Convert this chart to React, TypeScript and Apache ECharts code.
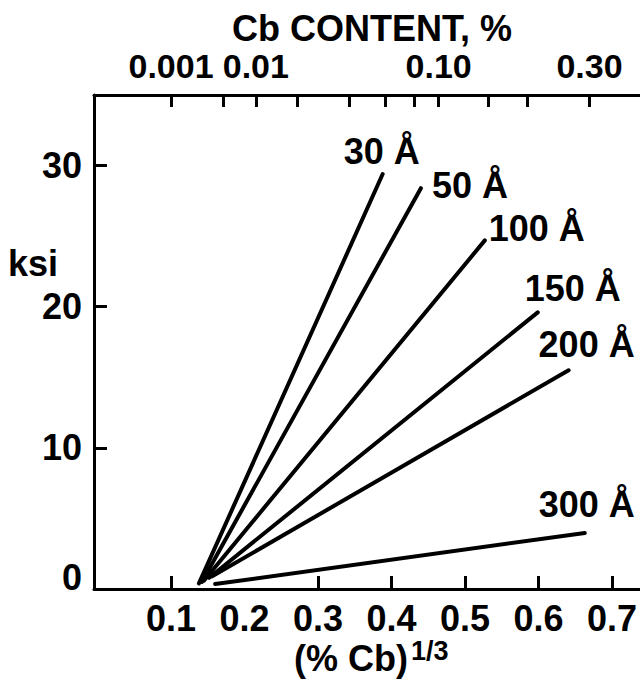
import React, { useEffect, useRef } from "react";
import * as echarts from "echarts";

// ---- data ----
const sizeLabels = ["30 Å", "50 Å", "100 Å", "150 Å", "200 Å", "300 Å"];
const xStart = [0.138, 0.142, 0.145, 0.152, 0.156, 0.16];
const yStart = [0.4, 0.5, 0.6, 0.8, 0.9, 0.35];
const xEnd = [0.388, 0.44, 0.527, 0.599, 0.641, 0.663];
const yEnd = [29.4, 28.4, 24.7, 19.6, 15.5, 3.97];

const bottomTickValues = [0.1, 0.3, 0.4, 0.5, 0.6, 0.7];
const bottomLabelValues = [0.1, 0.2, 0.3, 0.4, 0.5, 0.6, 0.7];
const yTickLabels = [0, 10, 20, 30];

const topTickPercents = [0.001, 0.005, 0.01, 0.02, 0.04, 0.06, 0.08, 0.1, 0.15, 0.2, 0.3];
const topLabelPercents = [0.001, 0.01, 0.1, 0.3];
const topLabelTexts = ["0.001", "0.01", "0.10", "0.30"];

// ---- styles ----
const FONT = "'Liberation Sans', Arial, sans-serif";
const FS = 36;
const labelOffsets: [number, number][] = [
  [-1, -23],
  [49, -3],
  [52, -12],
  [35, -24],
  [18, -26],
  [2, -28],
];

const cbrt = (v: number) => Math.cbrt(v);

export default function App() {
  const ref = useRef<HTMLDivElement>(null);
  useEffect(() => {
    if (!ref.current) return;
    const chart = echarts.init(ref.current, null, { renderer: "svg" });
    const topLabelVals = topLabelPercents.map(cbrt);
    const textStyle = { fontFamily: FONT, fontSize: FS, color: "#000", fontWeight: "bold" as const };
    const series = sizeLabels.map((name, i) => ({
      type: "line",
      name,
      xAxisIndex: 0,
      yAxisIndex: 0,
      symbol: "circle",
      symbolSize: 1,
      showSymbol: true,
      lineStyle: { color: "#000", width: 4, cap: "round" },
      itemStyle: { color: "#000" },
      data: [
        [xStart[i], yStart[i]],
        {
          value: [xEnd[i], yEnd[i]],
          label: {
            show: true,
            formatter: name,
            position: "inside",
            offset: labelOffsets[i],
            align: "center",
            verticalAlign: "middle",
            ...textStyle,
          },
        },
      ],
    }));
    chart.setOption({
      animation: false,
      backgroundColor: "#fff",
      grid: { left: 94, right: 0, top: 95, bottom: 91, containLabel: false },
      xAxis: [
        {
          type: "value",
          position: "bottom",
          min: -0.0048,
          max: 0.738,
          splitLine: { show: false },
          axisLine: { show: true, onZero: false, lineStyle: { color: "#000", width: 3 } },
          axisTick: {
            show: true,
            inside: true,
            length: 13,
            customValues: bottomTickValues,
            lineStyle: { color: "#000", width: 3 },
          },
          axisLabel: {
            show: true,
            customValues: bottomLabelValues,
            hideOverlap: false,
            margin: 11,
            formatter: (v: number) => String(Math.round(v * 10) / 10),
            ...textStyle,
          },
        },
        {
          type: "value",
          position: "top",
          min: -0.0048,
          max: 0.738,
          splitLine: { show: false },
          axisLine: { show: true, onZero: false, lineStyle: { color: "#000", width: 3 } },
          axisTick: {
            show: true,
            inside: true,
            length: 12,
            customValues: topTickPercents.map(cbrt),
            lineStyle: { color: "#000", width: 3 },
          },
          axisLabel: {
            show: true,
            customValues: topLabelVals,
            hideOverlap: false,
            showMinLabel: true,
            showMaxLabel: true,
            margin: 12,
            formatter: (v: number) => {
              let best = 0;
              topLabelVals.forEach((t, k) => {
                if (Math.abs(t - v) < Math.abs(topLabelVals[best] - v)) best = k;
              });
              return topLabelTexts[best];
            },
            ...textStyle,
            fontSize: 34,
          },
        },
      ],
      yAxis: {
        type: "value",
        min: 0,
        max: 35,
        interval: 10,
        splitLine: { show: false },
        axisLine: { show: true, onZero: false, lineStyle: { color: "#000", width: 3 } },
        axisTick: { show: true, inside: true, length: 13, lineStyle: { color: "#000", width: 3 } },
        axisLabel: {
          show: true,
          margin: 12,
          customValues: yTickLabels,
          formatter: (v: number) => (v === 0 ? "{z|0}" : String(v)),
          rich: { z: { ...textStyle, padding: [0, 0, 24, 0] } },
          ...textStyle,
        },
      },
      graphic: [
        {
          type: "text",
          x: 372,
          y: 28,
          style: { text: "Cb CONTENT, %", ...textStyle, fill: "#000", align: "center", verticalAlign: "middle" },
        },
        {
          type: "text",
          x: 33,
          y: 263,
          style: { text: "ksi", ...textStyle, fill: "#000", align: "center", verticalAlign: "middle" },
        },
        {
          type: "text",
          x: 408,
          y: 658,
          style: { text: "(% Cb)", ...textStyle, fill: "#000", align: "right", verticalAlign: "middle" },
        },
        {
          type: "text",
          x: 411,
          y: 651,
          style: { text: "1/3", ...textStyle, fontSize: 27, fill: "#000", align: "left", verticalAlign: "middle" },
        },
      ],
      series,
    });
    return () => chart.dispose();
  }, []);
  return (
    <div
      ref={ref}
      style={{ position: "fixed", left: 0, top: 0, width: 640, height: 680, background: "#fff" }}
    />
  );
}
